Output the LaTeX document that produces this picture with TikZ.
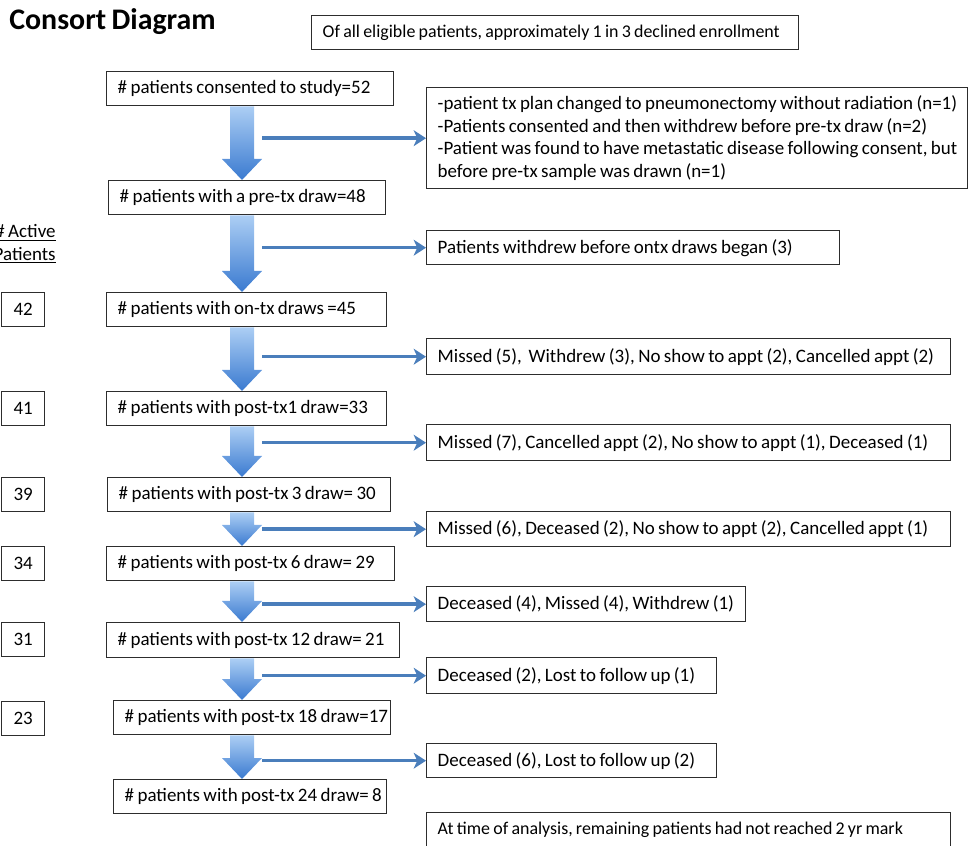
\documentclass[tikz,border=0pt]{standalone}
\usepackage{fontspec}
\setmainfont{Carlito}[WordSpace=0.8]
\usepackage{xcolor}
\usepackage{tikz}
\usetikzlibrary{calc,arrows.meta}
\definecolor{boxline}{RGB}{45,45,45}
\definecolor{lossblue}{RGB}{74,126,187}
\definecolor{arrowtop}{RGB}{172,206,244}
\definecolor{arrowbot}{RGB}{58,122,208}
\hyphenpenalty=10000

\tikzset{
  stage/.style={draw=boxline, line width=0.8pt, anchor=north west, inner xsep=2.2mm,
    inner ysep=0pt, minimum height=6.8mm, align=flush left,
    font=\fontsize{10.8}{12.9}\selectfont},
  note/.style={stage, font=\fontsize{10.2}{12.8}\selectfont},
  count/.style={draw=boxline, line width=0.8pt, anchor=north west, inner sep=0pt,
    minimum width=8.6mm, minimum height=6.8mm, font=\fontsize{10.8}{12.9}\selectfont},
  lossarrow/.style={lossblue, line width=2pt, -{Stealth[length=7pt,width=9pt,inset=2pt]}},
  bigarrow/.style={top color=arrowtop, bottom color=arrowbot},
}

% block arrow down the middle column
\newcommand{\blockarrow}[2]{%
  \shade[bigarrow] ($(col |- #1.south)+(-12,0)$) -- ($(col |- #1.south)+(12,0)$)
    -- ($(col |- #2.north)+(12,-21)$) -- ($(col |- #2.north)+(20,-21)$)
    -- (col |- #2.north) -- ($(col |- #2.north)+(-20,-21)$)
    -- ($(col |- #2.north)+(-12,-21)$) -- cycle;}

\begin{document}
\begin{tikzpicture}[x=0.2mm, y=-0.2mm]
\useasboundingbox (0,0) rectangle (971,846);

\coordinate (col) at (242,0);
\coordinate (hx) at (262,0);

\node[anchor=base west, inner sep=0pt, font=\fontsize{17}{19}\selectfont\bfseries] (title) at (9,30) {Consort Diagram};
\node[note, text width=93mm] (eligible) at (311,15) {\mbox{Of all eligible patients, approximately 1 in 3 declined enrollment}};

% main column
\node[stage, text width=53mm] (consent) at (106,71) {\mbox{\# patients consented to study=52}};
\node[stage, text width=51mm] (pretx) at (108,180) {\mbox{\# patients with a pre-tx draw=48}};
\node[stage, text width=51.6mm] (ontx) at (106,292) {\mbox{\# patients with on-tx draws =45}};
\node[stage, text width=51.6mm] (post1) at (106,391) {\mbox{\# patients with post-tx1 draw=33}};
\node[stage, text width=52.2mm] (post3) at (107,477) {\mbox{\# patients with post-tx 3 draw= 30}};
\node[stage, text width=53.2mm] (post6) at (106,546) {\mbox{\# patients with post-tx 6 draw= 29}};
\node[stage, text width=54.2mm, minimum height=7mm] (post12) at (106,622) {\mbox{\# patients with post-tx 12 draw= 21}};
\node[stage, text width=51mm] (post18) at (113,700) {\mbox{\# patients with post-tx 18 draw=17}};
\node[stage, text width=50.2mm] (post24) at (113,779) {\mbox{\# patients with post-tx 24 draw= 8}};

% losses
\node[stage, text width=103.8mm, minimum height=20.2mm] (loss1) at (426,87) {\mbox{-patient tx plan changed to pneumonectomy without radiation (n=1)}\\\mbox{-Patients consented and then withdrew before pre-tx draw (n=2)}\\\mbox{-Patient was found to have metastatic disease following consent, but}\\\mbox{before pre-tx sample was drawn (n=1)}};
\node[stage, text width=78.2mm] (loss2) at (426,230) {\mbox{Patients withdrew before ontx draws began (3)}};
\node[stage, text width=100.4mm, minimum height=7.2mm] (loss3) at (426,338) {\mbox{Missed (5),\ \ Withdrew (3), No show to appt (2), Cancelled appt (2)}};
\node[stage, text width=100.4mm, minimum height=7.2mm] (loss4) at (426,424) {\mbox{Missed (7), Cancelled appt (2), No show to appt (1), Deceased (1)}};
\node[stage, text width=100.4mm, minimum height=7mm] (loss5) at (426,511) {\mbox{Missed (6), Deceased (2), No show to appt (2), Cancelled appt (1)}};
\node[stage, text width=59.4mm, minimum height=7mm] (loss6) at (426,586) {\mbox{Deceased (4), Missed (4), Withdrew (1)}};
\node[stage, text width=53.6mm, minimum height=7.2mm] (loss7) at (426,657) {\mbox{Deceased (2), Lost to follow up (1)}};
\node[stage, text width=53.6mm] (loss8) at (426,743) {\mbox{Deceased (6), Lost to follow up (2)}};
\node[note, text width=100.4mm] (analysis) at (426,812) {\mbox{At time of analysis, remaining patients had not reached 2 yr mark}};

% active patients
\node[anchor=north east, align=right, inner sep=0pt, font=\fontsize{10.8}{12.9}\selectfont] (active) at (56,224) {\underline{\# Active}\\\underline{Patients}};
\node[count] (n42) at (1,292) {42};
\node[count] (n41) at (1,391) {41};
\node[count] (n39) at (1,477) {39};
\node[count] (n34) at (1,546) {34};
\node[count] (n31) at (1,622) {31};
\node[count] (n23) at (1,701) {23};

\blockarrow{consent}{pretx}
\blockarrow{pretx}{ontx}
\blockarrow{ontx}{post1}
\blockarrow{post1}{post3}
\blockarrow{post3}{post6}
\blockarrow{post6}{post12}
\blockarrow{post12}{post18}
\blockarrow{post18}{post24}

\draw[lossarrow] (hx |- loss1.west) -- (loss1.west);
\draw[lossarrow] (hx |- loss2.west) -- (loss2.west);
\draw[lossarrow] (hx |- loss3.west) -- (loss3.west);
\draw[lossarrow] (hx |- loss4.west) -- (loss4.west);
\draw[lossarrow] (hx |- loss5.west) -- (loss5.west);
\draw[lossarrow] (hx |- loss6.west) -- (loss6.west);
\draw[lossarrow] (hx |- loss7.west) -- (loss7.west);
\draw[lossarrow] (hx |- loss8.west) -- (loss8.west);
\end{tikzpicture}
\end{document}
